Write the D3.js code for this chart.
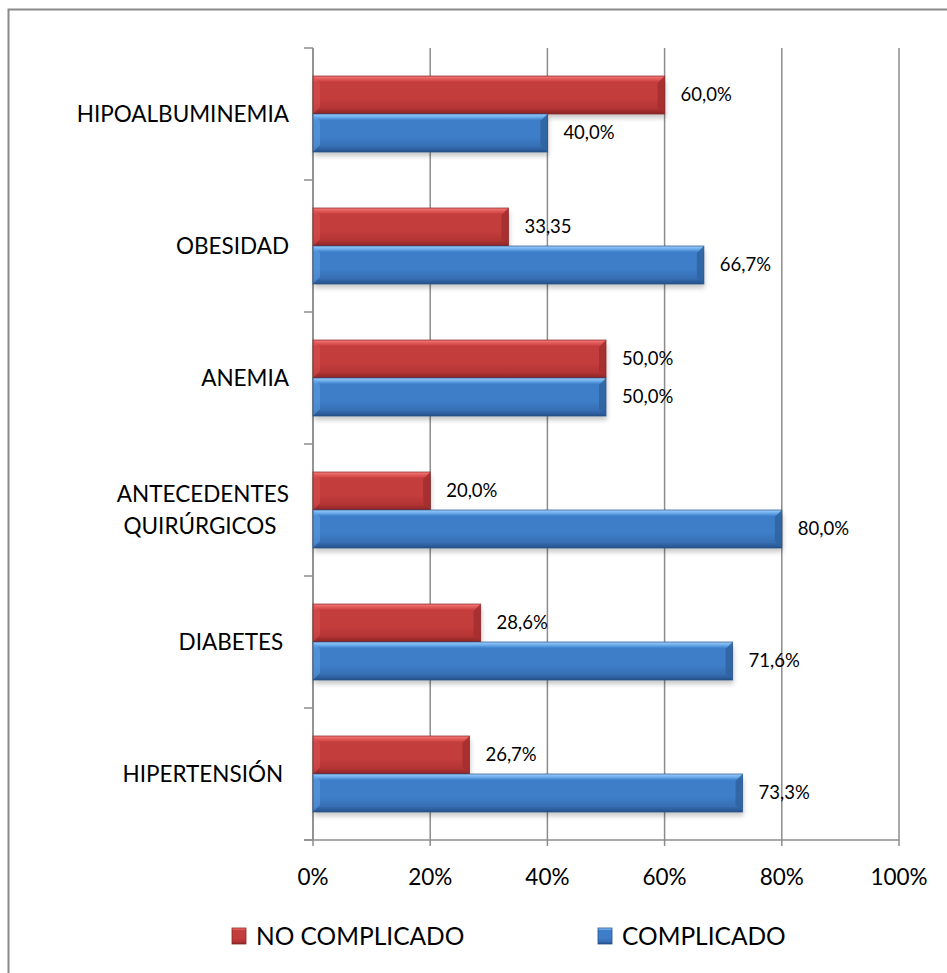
<!DOCTYPE html>
<html>
<head>
<meta charset="utf-8">
<script src="https://cdn.jsdelivr.net/npm/d3@7"></script>
<style>
  html, body { margin: 0; padding: 0; background: #fff; }
  svg { display: block; }
  text { font-family: Lato, "Open Sans", sans-serif; fill: #000; white-space: pre; }
</style>
</head>
<body>
<svg id="chart" width="947" height="973"></svg>
<script>
// Factores asociados: porcentaje de casos complicados / no complicados
const categories = ["HIPOALBUMINEMIA", "OBESIDAD", "ANEMIA", "ANTECEDENTES\nQUIRÚRGICOS ", "DIABETES ", "HIPERTENSIÓN "];
const seriesNames = ["NO COMPLICADO", "COMPLICADO"];
const noComplicado = [60.0, 33.35, 50.0, 20.0, 28.6, 26.7];
const complicado = [40.0, 66.7, 50.0, 80.0, 71.6, 73.3];
const noComplicadoLabels = ["60,0%", "33,35", "50,0%", "20,0%", "28,6%", "26,7%"];
const complicadoLabels = ["40,0%", "66,7%", "50,0%", "80,0%", "71,6%", "73,3%"];
const xTicks = [0, 20, 40, 60, 80, 100];
const xTickLabels = ["0%", "20%", "40%", "60%", "80%", "100%"];

const svg = d3.select("#chart");
const defs = svg.append("defs");

// outer chart frame (right/bottom edges fall outside the canvas)
svg.append("rect")
  .attr("x", 8.5).attr("y", 9.5).attr("width", 960).attr("height", 980)
  .attr("fill", "#fff").attr("stroke", "#8a8a8a").attr("stroke-width", 2);

const x = d3.scaleLinear().domain([0, 100]).range([313, 899]);
const y = d3.scaleBand().domain(categories).range([48, 840])
  .paddingInner(0.4242).paddingOuter(0.2121);
const ySeries = d3.scaleBand().domain(seriesNames).range([0, y.bandwidth()]);

// bevel gradients
const palette = {
  "NO COMPLICADO": { light: "#f47a7a", top: "#de5252", mid: "#c43d3d", low: "#b43434", dark: "#8a2424", end: "#a52e2e" },
  "COMPLICADO":    { light: "#9fd0fb", top: "#5fa2e6", mid: "#3e7ec9", low: "#376fb5", dark: "#25508a", end: "#2f639f" }
};
seriesNames.forEach((s, i) => {
  const c = palette[s];
  const g = defs.append("linearGradient").attr("id", "grad" + i)
    .attr("x1", 0).attr("y1", 0).attr("x2", 0).attr("y2", 1);
  [[0, c.light], [0.1, c.top], [0.16, c.mid], [0.6, c.mid], [0.85, c.low], [1, c.dark]]
    .forEach(([o, col]) => g.append("stop").attr("offset", o).attr("stop-color", col));
});
const blur = defs.append("filter").attr("id", "shadow")
  .attr("x", "-5%").attr("y", "-20%").attr("width", "110%").attr("height", "160%");
blur.append("feGaussianBlur").attr("stdDeviation", 2.5);

// gridlines
const grid = svg.append("g");
grid.selectAll("line").data(xTicks).join("line")
  .attr("x1", d => x(d)).attr("x2", d => x(d))
  .attr("y1", y.range()[0]).attr("y2", y.range()[1] + 6)
  .attr("stroke", "#8c8c8c").attr("stroke-width", 1.5);

// category axis with ticks between groups
const yAxis = svg.append("g");
yAxis.append("line")
  .attr("x1", x(0)).attr("x2", x(0))
  .attr("y1", y.range()[0]).attr("y2", y.range()[1])
  .attr("stroke", "#8c8c8c").attr("stroke-width", 1.5);
yAxis.selectAll("line.tick").data(d3.range(categories.length + 1)).join("line")
  .attr("class", "tick")
  .attr("x1", x(0) - 9).attr("x2", x(0))
  .attr("y1", i => y.range()[0] + i * y.step())
  .attr("y2", i => y.range()[0] + i * y.step())
  .attr("stroke", "#8c8c8c").attr("stroke-width", 1.5);

// value axis line
svg.append("line")
  .attr("x1", x(0) - 9).attr("x2", x(100))
  .attr("y1", y.range()[1]).attr("y2", y.range()[1])
  .attr("stroke", "#8c8c8c").attr("stroke-width", 1.5);

// bars
const rows = categories.map((c, i) => ({
  cat: c,
  values: [
    { s: seriesNames[0], v: noComplicado[i], label: noComplicadoLabels[i], k: 0 },
    { s: seriesNames[1], v: complicado[i], label: complicadoLabels[i], k: 1 }
  ]
}));

const groups = svg.append("g").selectAll("g").data(rows).join("g")
  .attr("transform", d => `translate(0,${y(d.cat)})`);

const bars = groups.selectAll("g.bar").data(d => d.values).join("g").attr("class", "bar");

// soft drop shadow under each bar
bars.append("rect")
  .attr("x", x(0) + 1)
  .attr("y", d => ySeries(d.s) + 4)
  .attr("width", d => x(d.v) - x(0))
  .attr("height", ySeries.bandwidth())
  .attr("fill", "#000").attr("opacity", 0.22).attr("filter", "url(#shadow)");

bars.each(function(d) {
  const g = d3.select(this);
  const x0 = x(0), x1 = x(d.v);
  const y0 = ySeries(d.s), h = ySeries.bandwidth(), y1 = y0 + h;
  const c = palette[d.s];
  const b = Math.min(7, (x1 - x0) / 2);
  g.append("rect").attr("x", x0).attr("y", y0).attr("width", x1 - x0).attr("height", h)
    .attr("fill", `url(#grad${d.k})`);
  // end bevels
  g.append("path")
    .attr("d", `M${x1},${y0}L${x1 - b},${y0 + b}L${x1 - b},${y1 - b}L${x1},${y1}Z`)
    .attr("fill", c.end).attr("opacity", 0.85);
  g.append("path")
    .attr("d", `M${x0},${y0}L${x0 + b},${y0 + b}L${x0 + b},${y1 - b}L${x0},${y1}Z`)
    .attr("fill", c.top).attr("opacity", 0.5);
  g.append("rect").attr("x", x0).attr("y", y0).attr("width", x1 - x0).attr("height", h)
    .attr("fill", "none").attr("stroke", c.dark).attr("stroke-width", 1).attr("opacity", 0.7);
});

// data labels
groups.selectAll("text.val").data(d => d.values).join("text")
  .attr("class", "val")
  .attr("x", d => x(d.v) + 16)
  .attr("y", d => ySeries(d.s) + ySeries.bandwidth() / 2)
  .attr("dy", "0.35em")
  .attr("font-size", 18.5)
  .text(d => d.label);

// category labels (multi-line labels centred within their block)
const labelRight = 289;
categories.forEach(cat => {
  const lines = cat.split("\n");
  const cy = y(cat) + y.bandwidth() / 2;
  const lh = 32;
  const t = svg.append("g");
  const texts = lines.map((ln, j) => t.append("text")
    .attr("y", cy + (j - (lines.length - 1) / 2) * lh)
    .attr("dy", "0.36em")
    .attr("font-size", 22.5)
    .text(ln));
  const widths = texts.map(tx => tx.node().getComputedTextLength());
  const maxW = d3.max(widths);
  texts.forEach((tx, j) => {
    tx.attr("x", labelRight - maxW + (maxW - widths[j]) / 2);
  });
});

// value tick labels
svg.append("g").selectAll("text").data(xTicks).join("text")
  .attr("x", d => x(d))
  .attr("y", 877)
  .attr("dy", "0.36em")
  .attr("text-anchor", "middle")
  .attr("font-size", 22.5)
  .text((d, i) => xTickLabels[i]);

// legend
const legendX = [232, 598];
const legend = svg.append("g").selectAll("g").data(seriesNames).join("g")
  .attr("transform", (d, i) => `translate(${legendX[i]},928)`);
legend.append("rect").attr("width", 14).attr("height", 16)
  .attr("fill", (d, i) => `url(#grad${i})`)
  .attr("stroke", d => palette[d].dark).attr("stroke-width", 0.8);
legend.append("text").attr("x", 24).attr("y", 8).attr("dy", "0.36em")
  .attr("font-size", 24.5).text(d => d);
</script>
</body>
</html>
